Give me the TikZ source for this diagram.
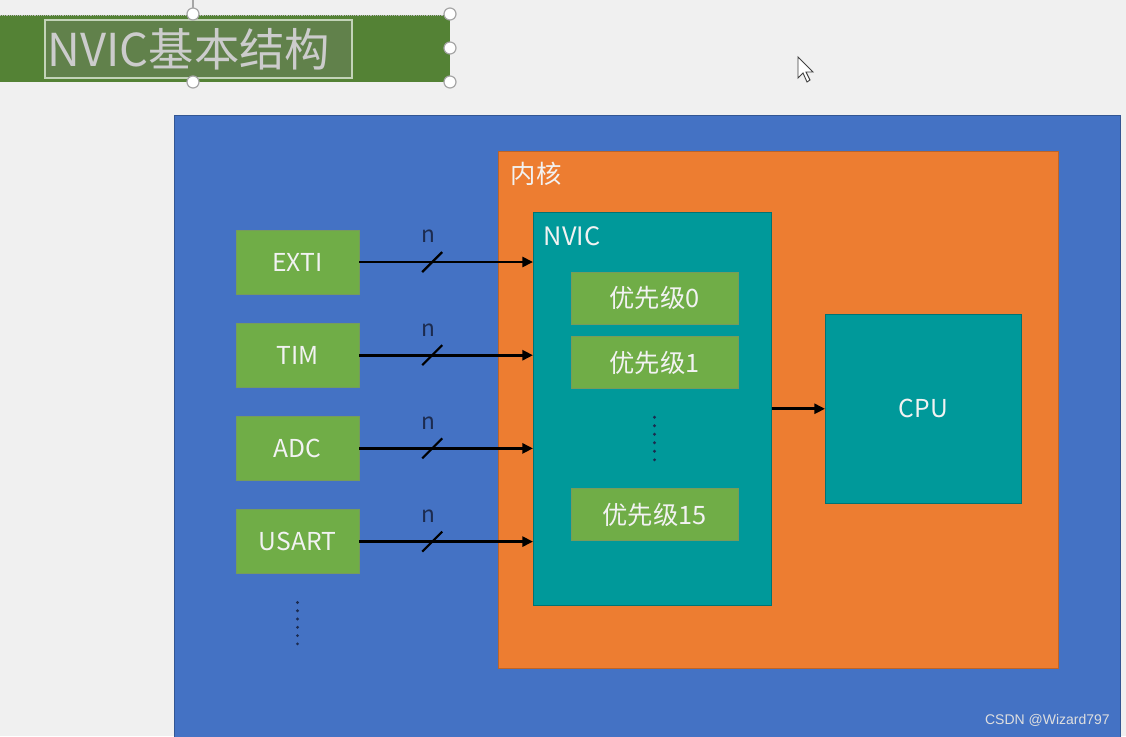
\documentclass[tikz,border=0pt]{standalone}
\usepackage{fontspec}
\setmainfont{Noto Sans CJK SC}
\newfontfamily\markfont{Liberation Sans}
\usetikzlibrary{arrows.meta, positioning, calc}
\definecolor{pagebg}{HTML}{F0F0F0}
\definecolor{board}{HTML}{4472C4}
\definecolor{core}{HTML}{ED7D31}
\definecolor{nvicteal}{HTML}{00999A}
\definecolor{leaf}{HTML}{70AD47}
\definecolor{titlegreen}{HTML}{548235}
\definecolor{inktext}{HTML}{F2F2F2}
\definecolor{dotink}{HTML}{1C2B4F}

\begin{document}
\begin{tikzpicture}[
  x=0.75pt, y=-0.75pt,
  panel/.style={rectangle, inner sep=0pt, anchor=north west},
  src/.style={rectangle, draw=titlegreen!80, fill=leaf, inner sep=0pt,
              minimum width=92.25pt, minimum height=48pt,
              font=\fontsize{18.5}{22}\selectfont, text=inktext},
  prio/.style={rectangle, draw=titlegreen!80, fill=leaf, inner sep=0pt,
               minimum width=125.25pt, minimum height=39pt,
               font=\fontsize{19}{22}\selectfont, text=inktext},
  tag/.style={anchor=north west, inner sep=0pt,
              font=\fontsize{19}{22}\selectfont, text=inktext},
  bus/.style={-{Triangle[length=8pt, width=7.5pt]}, line width=2.2pt, color=black},
  slash/.style={line width=1.6pt, color=black},
  handle/.style={draw=gray!70, fill=white, line width=0.9pt}
]
  \fill[pagebg] (0,0) rectangle (1126,736);
  \useasboundingbox (0,0) rectangle (1126,736);

  % title shape, still selected
  \fill[titlegreen] (0,15) rectangle (450,82);
  \draw[gray!55, densely dotted] (0,15) -- (450,15);
  \draw[gray!70, line width=0.8pt] (193,0) -- (193,14);
  \node[rectangle, draw=titlegreen!35!white, fill=titlegreen!70!gray, line width=1.5pt,
        inner xsep=2pt, inner ysep=0pt, text width=226pt, align=left, minimum height=43.5pt,
        font=\fontsize{34}{38}\selectfont, text=gray!40!white] (title) at (198.5,49)
    {NVIC基本结构};
  \foreach \p in {(193,14),(450,14),(450,48),(193,82),(450,82)}
    \draw[handle] \p circle (4.5pt);

  % mouse pointer
  \filldraw[fill=white, draw=black!75, line width=0.7pt]
    (798,57) -- (798,78) -- (803,73) -- (807,82) -- (810,80) -- (806,72) -- (813,72) -- cycle;

  % containers
  \node[panel, draw=board!75!black, fill=board, minimum width=709.5pt, minimum height=470pt]
    (chip) at (174,115) {};
  \node[panel, draw=core!80!black, fill=core, minimum width=420pt, minimum height=387.75pt]
    (kernel) at (498,151) {};
  \node[tag] (kernellabel) at ([shift={(9.5pt,-8pt)}]kernel.north west) {内核};
  \node[panel, draw=nvicteal!75!black, fill=nvicteal, minimum width=178.5pt, minimum height=294.75pt]
    (nvic) at (533,212) {};
  \node[tag] (nviclabel) at ([shift={(8pt,-10.5pt)}]nvic.north west) {NVIC};
  \node[panel, draw=nvicteal!75!black, fill=nvicteal, minimum width=147pt, minimum height=141.75pt]
    (cpu) at (825,314) {};
  \node[font=\fontsize{18.5}{22}\selectfont, text=inktext] (cpulabel) at (cpu.center) {CPU};

  % priority groups
  \node[prio] (p0) at (654.5,298) {优先级0};
  \node[prio, below=9pt of p0] (p1) {优先级1};
  \node[prio] (p15) at (654.5,514.5) {优先级15};
  \coordinate (pgap) at ($(p1.south)!0.5!(p15.north)$);
  \foreach \k in {0,...,5}
    \fill[dotink] ([yshift={(2.5-\k)*6.4pt}]pgap) circle (1.2pt);

  % interrupt sources
  \node[src] (exti) at (297.5,262) {EXTI};
  \node[src, below=21.5pt of exti] (tim) {TIM};
  \node[src, below=21.5pt of tim] (adc) {ADC};
  \node[src, below=21.5pt of adc] (usart) {USART};
  \coordinate[below=37pt of usart] (more);
  \foreach \k in {0,...,5}
    \fill[dotink] ([yshift={(2.5-\k)*6.2pt}]more) circle (1.2pt);

  \foreach \s in {exti,tim,adc,usart} {
    \draw[bus] (\s.east) -- coordinate[pos=0.42] (cut) (\s.east -| nvic.west);
    \draw[slash] ([shift={(-7.5pt,-7.5pt)}]cut) -- ([shift={(7.5pt,7.5pt)}]cut);
    \node[font=\fontsize{17}{20}\selectfont, text=dotink, inner sep=0pt]
      at ([shift={(-3pt,19pt)}]cut) {n};
  }

  \draw[bus] (cpu.west -| nvic.east) -- (cpu.west);

  \node[anchor=south east, inner sep=0pt, font=\markfont\fontsize{10.5}{12}\selectfont,
        text=gray!25!white] (mark) at (1110,727) {CSDN @Wizard797};
\end{tikzpicture}
\end{document}
